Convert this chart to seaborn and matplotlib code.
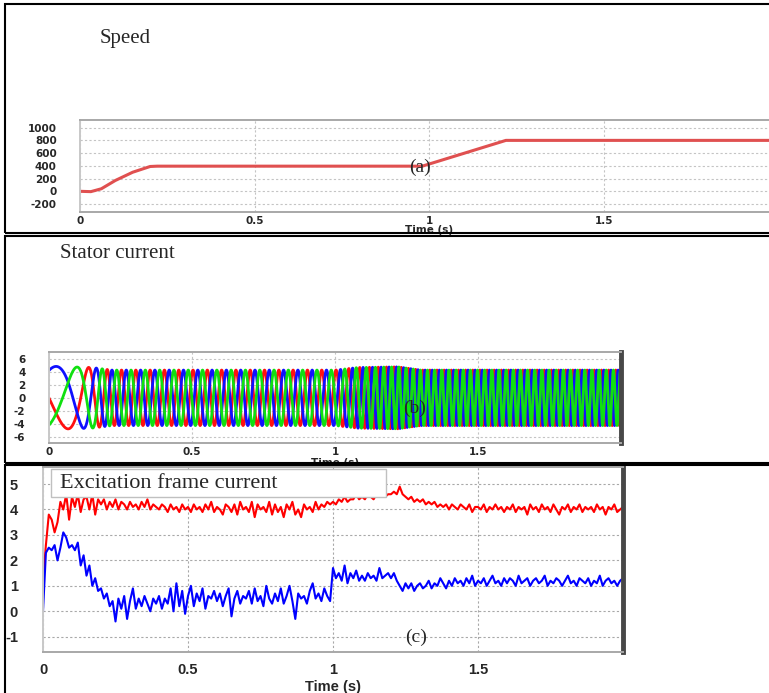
import numpy as np
import pandas as pd
import matplotlib.pyplot as plt
import seaborn as sns
from matplotlib.patches import Rectangle

W, H = 769, 693

# (a) speed
speed_t = [0, 0.03, 0.06, 0.10, 0.15, 0.20, 0.22, 0.98, 1.22, 2.0]
speed_rpm = [0, -5, 40, 170, 300, 390, 395, 395, 800, 800]

# (b) stator current: electrical frequency and amplitude
freq_t = [0, 0.05, 0.10, 0.15, 0.20, 1.0, 1.22, 2.0]
freq_hz = [3, 4, 6, 12, 20, 20, 40, 40]
amp_t = [0, 0.15, 0.22, 1.0, 1.08, 1.22, 1.30, 2.0]
amp_a = [4.9, 4.7, 4.3, 4.3, 4.7, 4.8, 4.3, 4.3]

# (c) excitation frame current, sampled every 10 ms
exc_t = np.round(np.arange(0, 2.0001, 0.01), 2)
exc_red = [
    1.2, 2.6, 3.8, 3.6, 3.1, 3.5, 4.3, 4.0, 4.6, 3.6,
    4.5, 4.1, 4.6, 3.9, 4.4, 4.5, 4.0, 4.6, 3.8, 4.4,
    4.2, 4.4, 4.0, 4.3, 4.1, 4.4, 4.0, 4.3, 4.2, 4.0,
    4.3, 4.1, 4.2, 4.0, 4.3, 4.1, 4.4, 4.0, 4.2, 4.1,
    4.0, 4.2, 4.1, 3.9, 4.2, 4.0, 4.1, 3.9, 4.2, 4.0,
    4.1, 3.9, 4.2, 4.0, 4.1, 3.9, 4.2, 4.0, 4.3, 3.9,
    4.1, 4.0, 3.8, 4.2, 4.1, 3.9, 4.2, 3.8, 4.3, 4.0,
    4.1, 3.9, 4.3, 3.7, 4.2, 4.0, 4.1, 3.9, 4.3, 3.8,
    4.2, 3.9, 4.1, 3.7, 4.2, 4.0, 4.3, 3.8, 4.0, 3.7,
    4.2, 4.0, 4.1, 3.9, 4.3, 4.0, 4.2, 4.1, 4.3, 4.2,
    4.3, 4.2, 4.4, 4.3, 4.5, 4.3, 4.4, 4.4, 4.6, 4.4,
    4.5, 4.4, 4.6, 4.5, 4.4, 4.6, 4.5, 4.7, 4.5, 4.6,
    4.6, 4.7, 4.6, 4.9, 4.6, 4.5, 4.4, 4.5, 4.3, 4.4,
    4.3, 4.4, 4.2, 4.3, 4.2, 4.3, 4.1, 4.2, 4.1, 4.2,
    4.0, 4.2, 4.1, 4.0, 4.2, 4.1, 4.0, 4.2, 3.9, 4.1,
    4.1, 4.0, 4.2, 3.9, 4.1, 4.0, 4.2, 4.0, 4.1, 3.9,
    4.1, 4.0, 4.2, 3.9, 4.1, 4.0, 4.1, 3.8, 4.2, 4.0,
    4.1, 3.9, 4.2, 4.0, 4.1, 3.9, 4.2, 4.0, 3.8, 4.1,
    4.0, 4.2, 3.9, 4.1, 4.0, 4.2, 3.9, 4.1, 4.0, 4.1,
    3.9, 4.2, 4.0, 4.1, 3.8, 4.1, 4.0, 4.2, 3.9, 4.0,
    4.1,
]
exc_blue = [
    0.0, 2.3, 2.5, 2.4, 2.6, 2.0, 2.5, 3.1, 2.9, 2.5,
    2.6, 2.4, 2.7, 1.8, 2.2, 1.4, 1.8, 1.0, 1.3, 0.8,
    0.9, 0.5, 0.7, 0.2, 0.4, -0.4, 0.5, 0.1, 0.6, -0.3,
    0.4, 0.9, 0.1, 0.5, 0.2, 0.6, 0.3, 0.0, 0.5, 0.3,
    0.6, 0.1, 0.5, 0.3, 0.9, 0.0, 1.1, 0.2, 0.8, -0.1,
    0.6, 1.0, 0.2, 0.7, 0.4, 0.9, 0.1, 0.6, 0.5, 0.8,
    0.4, 0.7, 0.2, 0.6, 0.9, -0.2, 0.5, 0.8, 0.3, 0.6,
    0.5, 0.8, 0.3, 0.9, 0.4, 0.6, 0.2, 1.0, 0.5, 0.3,
    0.7, 0.4, 0.9, 0.3, 0.6, 1.0, 0.4, -0.3, 0.7, 0.5,
    0.6, 0.3, 0.8, 1.1, 0.5, 0.7, 0.4, 0.9, 0.6, 0.4,
    1.7, 1.3, 1.5, 1.2, 1.8, 1.1, 1.5, 1.3, 1.6, 1.2,
    1.4, 1.2, 1.5, 1.3, 1.4, 1.2, 1.7, 1.3, 1.4, 1.5,
    1.3, 1.5, 1.2, 1.0, 0.8, 1.1, 0.9, 1.1, 0.8, 1.0,
    1.1, 0.9, 1.0, 1.2, 0.9, 1.1, 1.0, 1.3, 1.1, 0.9,
    1.2, 1.0, 1.3, 1.1, 1.2, 1.0, 1.3, 1.1, 1.4, 1.0,
    1.2, 1.1, 1.3, 1.0, 1.2, 1.4, 1.1, 1.2, 1.0, 1.3,
    1.1, 1.3, 1.2, 1.0, 1.4, 1.1, 1.2, 1.3, 1.0, 1.2,
    1.3, 1.1, 1.2, 1.4, 1.0, 1.2, 1.1, 1.3, 1.2, 1.0,
    1.2, 1.4, 1.1, 1.2, 1.0, 1.3, 1.2, 1.1, 1.3, 1.0,
    1.2, 1.1, 1.4, 1.0, 1.2, 1.3, 1.1, 1.2, 1.0, 1.2,
    1.3,
]

sns.set_style("white")
plt.rcParams["font.family"] = ["DejaVu Sans"]

fig = plt.figure(figsize=(W / 100, H / 100), dpi=100)


def px_rect(l, t, r, b):
    return [l / W, 1 - b / H, (r - l) / W, (b - t) / H]


def fig_xy(x, y):
    return x / W, 1 - y / H


# panel frames
for top, bot in [(4, 233), (236, 463), (465, 700)]:
    x0, y0 = fig_xy(5, bot)
    fig.add_artist(Rectangle((x0, y0), 780 / W, (bot - top) / H,
                             transform=fig.transFigure, fill=False,
                             ec="black", lw=1.5))


def style(ax, grid_c, dark_right):
    ax.set_facecolor("white")
    ax.grid(True, color=grid_c, ls=(0, (2, 2)), lw=0.8)
    for s in ["top", "bottom", "left"]:
        ax.spines[s].set_color("#a8a8a8")
        ax.spines[s].set_linewidth(1.4)
    ax.spines["left"].set_color("#c8c8c8")
    if dark_right:
        ax.spines["right"].set_color("#484848")
        ax.spines["right"].set_linewidth(3.5)
    else:
        ax.spines["right"].set_visible(False)


small = dict(fontsize=7.5, fontweight="bold", family="DejaVu Sans")
serif = ["Liberation Serif", "DejaVu Serif"]

# (a) speed
ax1 = fig.add_axes(px_rect(80.4, 120, 778, 211.7))
sns.lineplot(x=speed_t, y=speed_rpm, ax=ax1, color="#e05050", lw=2.2)
ax1.set_xlim(0, 2)
ax1.set_ylim(-320, 1120)
ax1.set_yticks([-200, 0, 200, 400, 600, 800, 1000])
ax1.set_xticks([0, 0.5, 1, 1.5])
ax1.set_xticklabels(["0", "0.5", "1", "1.5"], **small)
ax1.set_yticklabels(["-200", "0", "200", "400", "600", "800", "1000"], **small)
ax1.tick_params(length=0)
ax1.tick_params(axis="y", pad=17)
ax1.tick_params(axis="x", pad=3)
ax1.set_xlabel("Time (s)", **small)
ax1.xaxis.set_label_coords((429 - 80.4) / (778 - 80.4), -0.14)
ax1.set_ylabel("")
style(ax1, "#c4c4c4", False)
fig.text(*fig_xy(100, 38), "Speed", family=serif, fontsize=15, va="center")
fig.text(*fig_xy(420, 167), "(a)", family=serif, fontsize=14, va="center", ha="center")

# (b) stator current
t2 = np.linspace(0, 2, 8001)
f2 = np.interp(t2, freq_t, freq_hz)
a2 = np.interp(t2, amp_t, amp_a)
theta = 2 * np.pi * np.cumsum(f2) * (t2[1] - t2[0])
phases = pd.DataFrame({
    "t": t2,
    "ia": a2 * np.sin(theta + np.pi),
    "ib": a2 * np.sin(theta + np.pi + 4 * np.pi / 3),
    "ic": a2 * np.sin(theta + np.pi + 2 * np.pi / 3),
})
ax2 = fig.add_axes(px_rect(49, 352, 621, 443))
sns.lineplot(data=phases, x="t", y="ia", ax=ax2, color="#ff1010", lw=2.0)
sns.lineplot(data=phases, x="t", y="ib", ax=ax2, color="#1010ff", lw=2.0)
sns.lineplot(data=phases, x="t", y="ic", ax=ax2, color="#10e010", lw=2.0)
ax2.set_xlim(0, 2)
ax2.set_ylim(-7, 7.1)
ax2.set_yticks([-6, -4, -2, 0, 2, 4, 6])
ax2.set_yticklabels(["-6", "-4", "-2", "0", "2", "4", "6"], **small)
ax2.set_xticks([0, 0.5, 1, 1.5])
ax2.set_xticklabels(["0", "0.5", "1", "1.5"], **small)
ax2.tick_params(length=0)
ax2.tick_params(axis="y", pad=17)
ax2.tick_params(axis="x", pad=3)
ax2.set_xlabel("Time (s)", **small)
ax2.xaxis.set_label_coords((335 - 49) / (621 - 49), -0.16)
ax2.set_ylabel("")
style(ax2, "#c4c4c4", True)
fig.text(*fig_xy(60, 253), "Stator current", family=serif, fontsize=15, va="center")
fig.text(*fig_xy(415, 408), "(b)", family=serif, fontsize=14, va="center", ha="center")

# (c) excitation frame current
ax3 = fig.add_axes(px_rect(43, 467, 623, 652))
sns.lineplot(x=exc_t, y=exc_red, ax=ax3, color="#ff0000", lw=1.5)
sns.lineplot(x=exc_t, y=exc_blue, ax=ax3, color="#0000ff", lw=1.5)
ax3.set_xlim(0, 2)
ax3.set_ylim(-1.6, 5.67)
ax3.set_yticks([-1, 0, 1, 2, 3, 4, 5])
ax3.set_xticks([0, 0.5, 1, 1.5])
big = dict(fontsize=10.5, fontweight="bold", family="Liberation Sans")
ax3.set_yticklabels(["-1", "0", "1", "2", "3", "4", "5"], **big)
ax3.set_xticklabels(["0", "0.5", "1", "1.5"], **big)
ax3.tick_params(length=0)
ax3.tick_params(axis="y", pad=18)
ax3.tick_params(axis="x", pad=8)
ax3.set_xlabel("Time (s)", **big)
ax3.xaxis.set_label_coords((333 - 43) / (623 - 43), -0.15)
ax3.set_ylabel("")
style(ax3, "#a8a8a8", True)
bx, by = fig_xy(51, 497)
fig.add_artist(Rectangle((bx, by), (386 - 51) / W, 28 / H, transform=fig.transFigure,
                         fill=True, fc="white", ec="#c0c0c0", lw=1))
fig.text(*fig_xy(60, 483), "Excitation frame current", family=serif, fontsize=16, va="center")
fig.text(*fig_xy(416, 637), "(c)", family=serif, fontsize=14, va="center", ha="center")

fig.savefig("out.png", dpi=100)
